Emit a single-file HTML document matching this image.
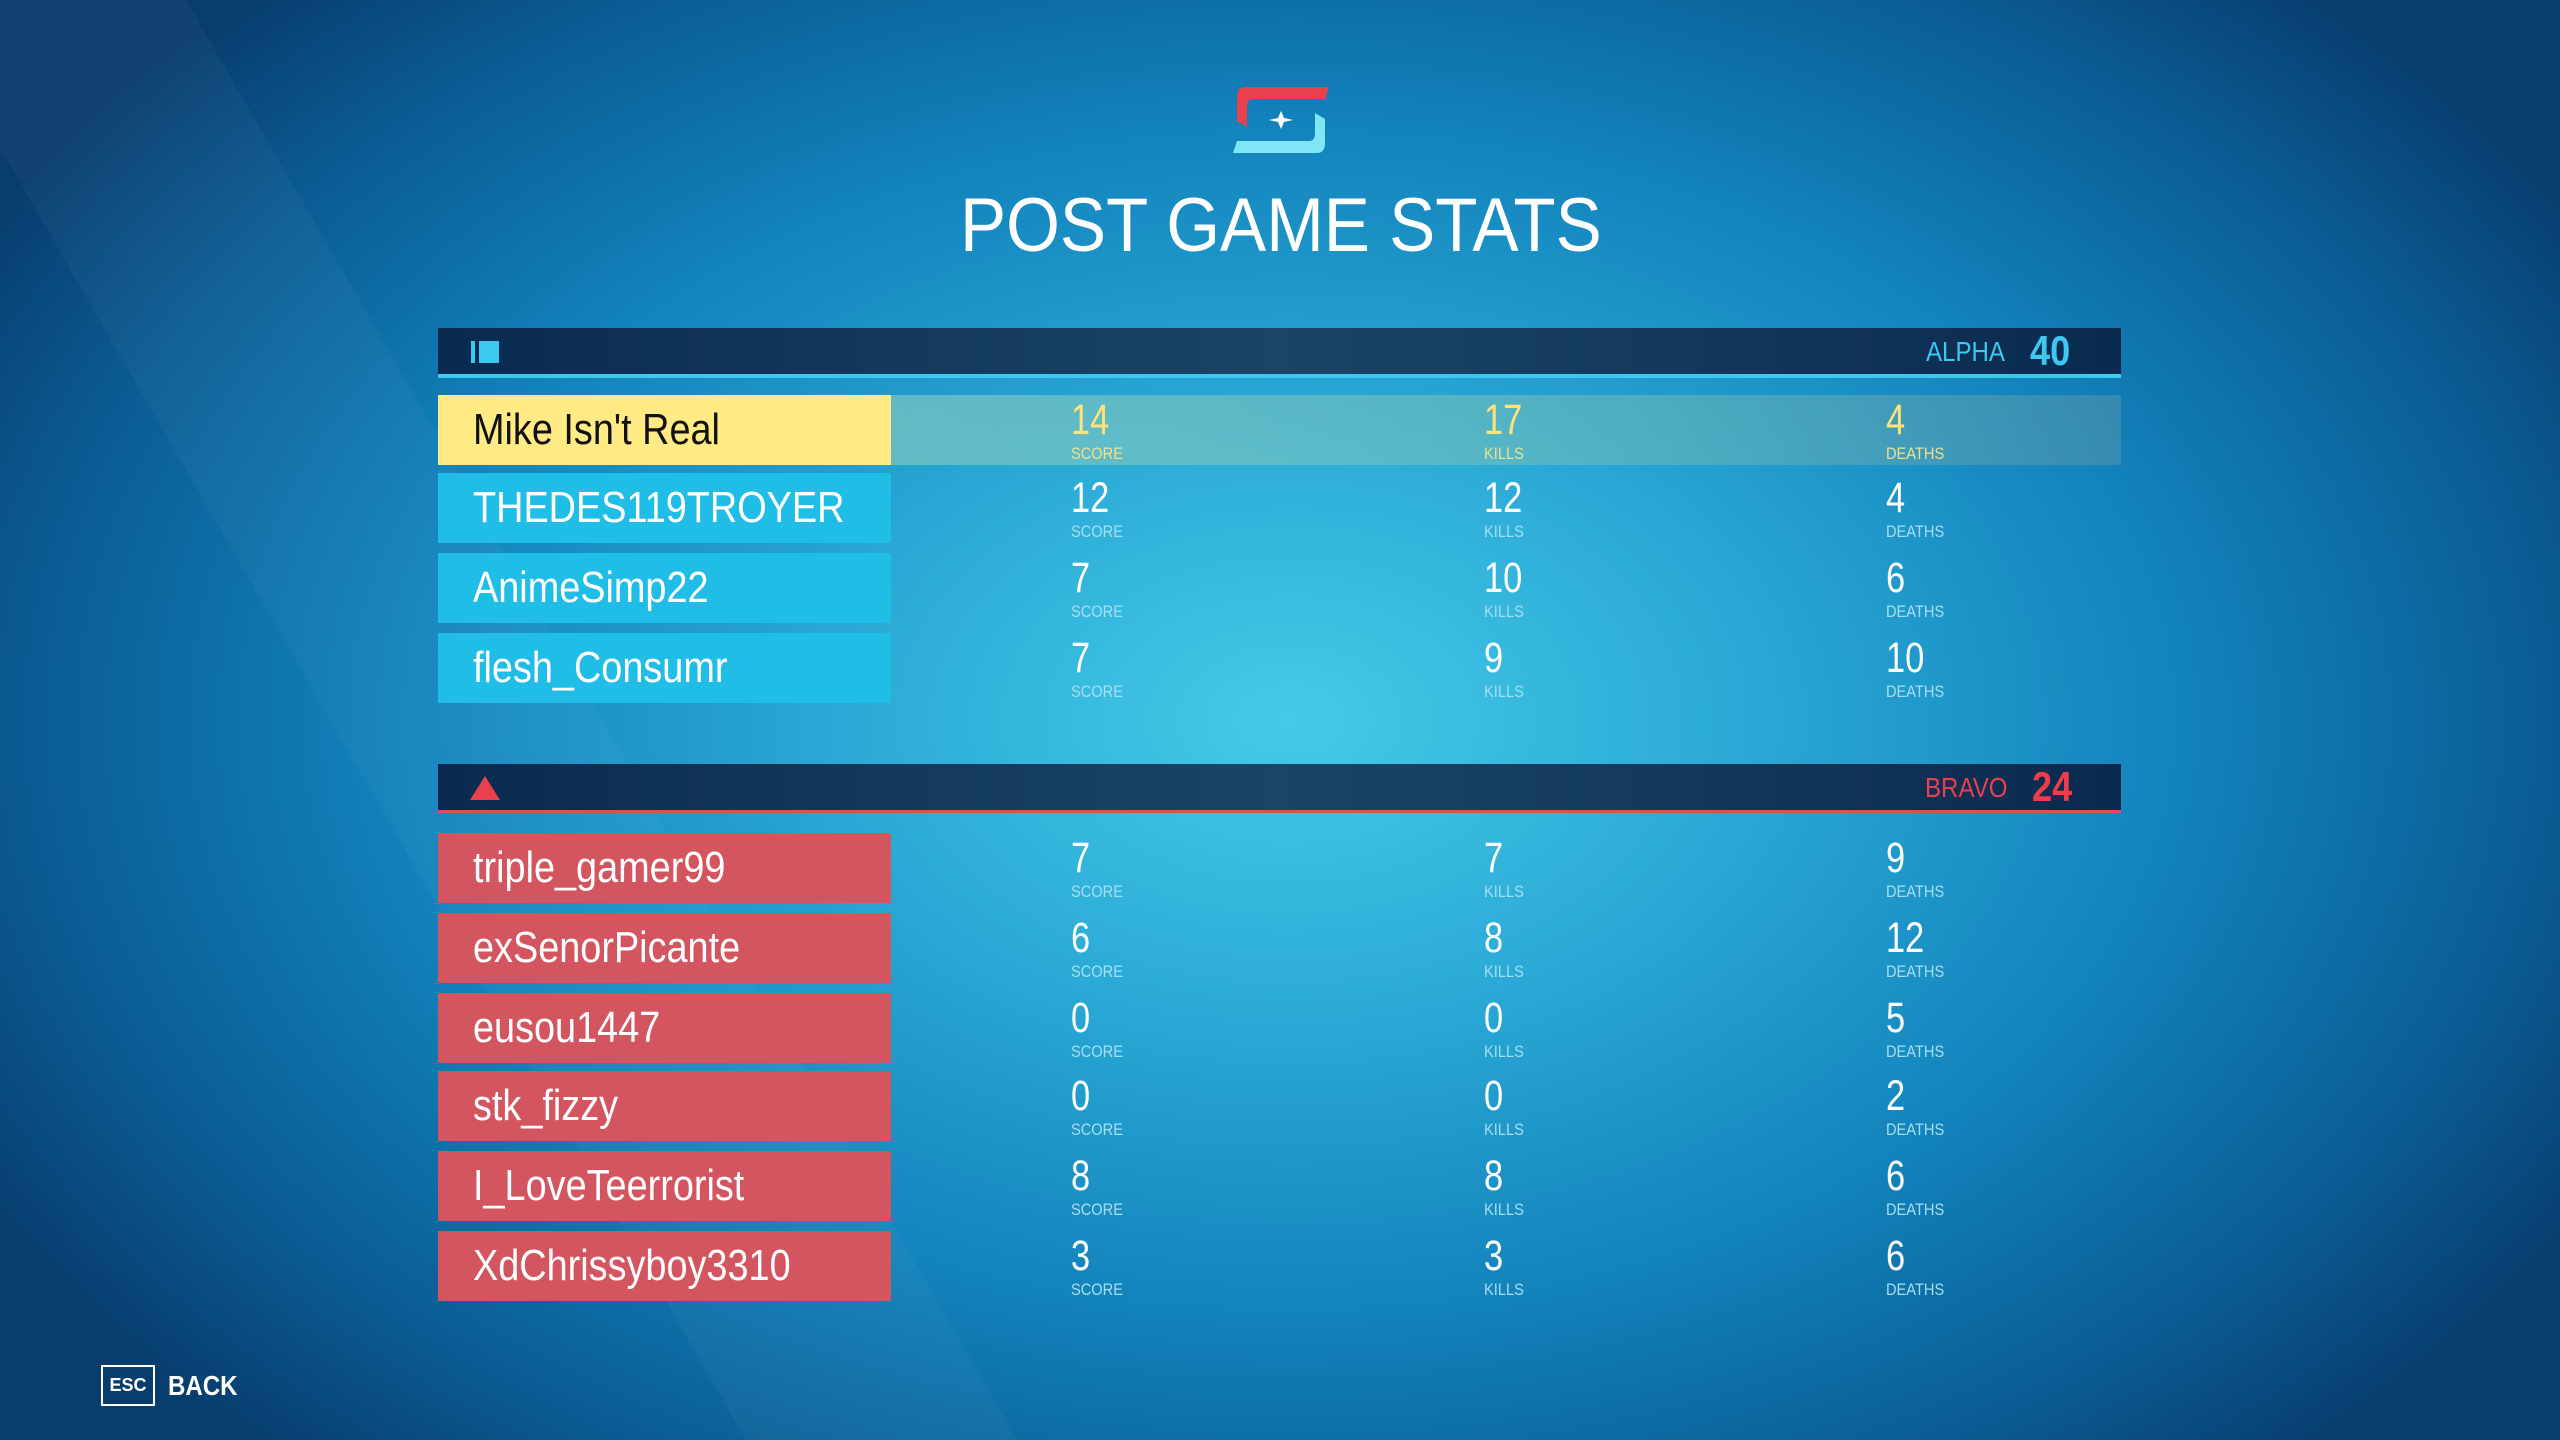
<!DOCTYPE html>
<html><head><meta charset="utf-8"><style>
*{margin:0;padding:0;box-sizing:border-box}
body{width:2560px;height:1440px;overflow:hidden;font-family:"Liberation Sans",sans-serif;position:relative;
background:radial-gradient(ellipse 1500px 1000px at 1290px 720px,#45cbe8 0%,#2aa9d6 30%,#1282bb 60%,#0a5a92 85%,#083d6e 100%);}
.stripe{position:absolute;left:0;top:0;width:2560px;height:1440px;
background:linear-gradient(60deg,rgba(255,255,255,0) 0%,rgba(255,255,255,0) 22%,rgba(255,255,255,0.03) 22%,rgba(255,255,255,0.03) 30%,rgba(255,255,255,0) 30%,rgba(255,255,255,0) 100%);}
.abs{position:absolute}
.n{display:inline-block;transform:scaleX(.86);transform-origin:left center;white-space:nowrap}
.bar{position:absolute;left:438px;width:1683px;height:48px;background:linear-gradient(90deg,#0a2a50,#1a4565 50%,#0a2a50)}
.name{position:absolute;left:438px;width:453px;height:70px;font-size:44px;line-height:70px;padding-left:35px;color:#fff}
.num{position:absolute;font-size:43px;color:#fff;line-height:1}
.lab{position:absolute;font-size:17px;color:#a8def0;line-height:1}
</style></head><body>
<div class="stripe"></div>
<svg class="abs" style="left:1233px;top:87px" width="96" height="66" viewBox="0 0 96 66">
<path d="M12 0 H96 L92 12 H20 Q14 12 14 20 V40 L4 34 V10 Q4 0 12 0Z" fill="#e8404c"/>
<path d="M84 66 H0 L4 54 H76 Q82 54 82 46 V26 L92 32 V56 Q92 66 84 66Z" fill="#7fe6f8"/>
<path d="M48 24 L51 31 L60 33 L51 35 L48 42 L45 35 L36 33 L45 31Z" fill="#fff"/>
</svg>
<div class="abs" style="left:960px;top:188px;font-size:76px;color:#fff;line-height:76px"><span class="n" style="transform:scaleX(.91)">POST GAME STATS</span></div>

<div class="bar" style="top:328px"></div>
<div class="abs" style="left:438px;top:374px;width:1683px;height:4px;background:#3cc8ef"></div>
<div class="abs" style="left:471px;top:341px;width:28px;height:22px;border-left:4px solid #3cc8ef;background:linear-gradient(90deg,transparent 4px,#3cc8ef 4px)"></div>
<div class="abs" style="left:1926px;top:336px;font-size:28px;color:#3cc8ef;line-height:32px"><span class="n">ALPHA</span></div>
<div class="abs" style="left:2030px;top:328px;font-size:42px;font-weight:bold;color:#3cc8ef;line-height:46px"><span class="n">40</span></div>

<div class="abs" style="left:891px;top:395px;width:1230px;height:70px;background:linear-gradient(90deg,rgba(150,210,190,.55),rgba(120,190,180,.5) 60%,rgba(90,150,170,.5))"></div>
<div class="name" style="top:395px;background:#ffea84;color:#111"><span class="n">Mike Isn't Real</span></div>
<div class="name" style="top:473px;background:#20bde6"><span class="n">THEDES119TROYER</span></div>
<div class="name" style="top:553px;background:#20bde6"><span class="n">AnimeSimp22</span></div>
<div class="name" style="top:633px;background:#20bde6"><span class="n">flesh_Consumr</span></div>

<div class="bar" style="top:764px"></div>
<div class="abs" style="left:438px;top:810px;width:1683px;height:3px;background:#d9505a"></div>
<svg class="abs" style="left:470px;top:776px" width="30" height="24"><path d="M15 0 L30 24 H0Z" fill="#e8404c"/></svg>
<div class="abs" style="left:1925px;top:772px;font-size:28px;color:#e8404c;line-height:32px"><span class="n">BRAVO</span></div>
<div class="abs" style="left:2032px;top:764px;font-size:42px;font-weight:bold;color:#ef3c48;line-height:46px"><span class="n">24</span></div>

<div class="name" style="top:833px;background:#d3555f"><span class="n">triple_gamer99</span></div>
<div class="name" style="top:913px;background:#d3555f"><span class="n">exSenorPicante</span></div>
<div class="name" style="top:993px;background:#d3555f"><span class="n">eusou1447</span></div>
<div class="name" style="top:1071px;background:#d3555f"><span class="n">stk_fizzy</span></div>
<div class="name" style="top:1151px;background:#d3555f"><span class="n">I_LoveTeerrorist</span></div>
<div class="name" style="top:1231px;background:#d3555f"><span class="n">XdChrissyboy3310</span></div>

<div id="stats"></div>
<script>
var rows=[[395,14,17,4,1],[473,12,12,4],[553,7,10,6],[633,7,9,10],[833,7,7,9],[913,6,8,12],[993,0,0,5],[1071,0,0,2],[1151,8,8,6],[1231,3,3,6]];
var xs=[1071,1484,1886],labs=["SCORE","KILLS","DEATHS"],h="";
rows.forEach(function(r){for(var i=0;i<3;i++){var c=r[4]?"#ffe27a":"#fff",lc=r[4]?"#f0e090":"#a8def0";
h+='<div class="num" style="left:'+xs[i]+'px;top:'+(r[0]+4)+'px;color:'+c+'"><span class="n" style="transform:scaleX(.8)">'+r[i+1]+'</span></div>';
h+='<div class="lab" style="left:'+xs[i]+'px;top:'+(r[0]+50)+'px;color:'+lc+'"><span class="n">'+labs[i]+'</span></div>';}});
document.getElementById("stats").innerHTML=h;
</script>

<div class="abs" style="left:101px;top:1365px;width:54px;height:41px;border:2px solid #fff;color:#fff;font-size:18px;font-weight:bold;line-height:37px;text-align:center">ESC</div>
<div class="abs" style="left:168px;top:1370px;font-size:28px;font-weight:bold;color:#fff;line-height:32px"><span class="n">BACK</span></div>
</body></html>
